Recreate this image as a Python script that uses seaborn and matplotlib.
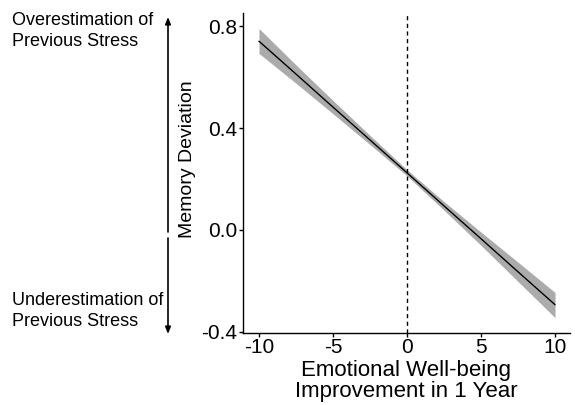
import matplotlib
matplotlib.use("Agg")
import matplotlib.pyplot as plt
import seaborn as sns
import pandas as pd

# Fitted regression of memory deviation on well-being change, with 95% band
wellbeing_change = [-10, -7.5, -5, -2.5, 0, 2.5, 5, 7.5, 10]
fitted = [0.741, 0.612, 0.482, 0.353, 0.224, 0.094, -0.035, -0.165, -0.294]
band_lower = [0.693, 0.576, 0.456, 0.335, 0.212, 0.077, -0.061, -0.203, -0.345]
band_upper = [0.791, 0.648, 0.508, 0.371, 0.236, 0.111, -0.009, -0.127, -0.246]

x_ticks = [-10, -5, 0, 5, 10]
y_ticks = [-0.4, 0.0, 0.4, 0.8]

df = pd.DataFrame({"x": wellbeing_change, "fit": fitted,
                   "lo": band_lower, "hi": band_upper})

sns.set_theme(style="white")
plt.rcParams["font.family"] = ["Liberation Sans", "DejaVu Sans"]

fig = plt.figure(figsize=(5.75, 4.05), dpi=100)
ax = fig.add_axes([0.4226, 0.178, 0.5684, 0.79])

ax.fill_between(df["x"], df["lo"], df["hi"], color="#ababab", linewidth=0, zorder=1)
sns.lineplot(data=df, x="x", y="fit", ax=ax, color="black", linewidth=1.0, zorder=2)
ax.axvline(0, color="black", linestyle=(0, (3, 2.5)), linewidth=1.0, zorder=3)

ax.set_xlim(-11.08, 11.0)
ax.set_ylim(-0.405, 0.852)
ax.set_xticks(x_ticks)
ax.set_xticklabels([f"{v:d}" for v in x_ticks])
ax.set_yticks(y_ticks)
ax.set_yticklabels([f"{v:.1f}" for v in y_ticks])
ax.tick_params(axis="both", which="both", direction="out", length=3, width=1,
               color="black", labelsize=15, labelcolor="black", pad=1,
               bottom=True, left=True)

for side in ["top", "right"]:
    ax.spines[side].set_visible(False)
for side in ["left", "bottom"]:
    ax.spines[side].set_color("black")
    ax.spines[side].set_linewidth(1.0)

ax.set_xlabel("Emotional Well-being\nImprovement in 1 Year", fontsize=16,
              color="black", linespacing=1.0, labelpad=2)
ax.set_ylabel("")
fig.text(187 / 575, 1 - 159 / 405, "Memory Deviation", rotation=90, fontsize=14,
         ha="center", va="center", color="black")

# Directional annotations on the left
fig.text(12 / 575, 1 - 31 / 405, "Overestimation of\nPrevious Stress", fontsize=13,
         ha="left", va="center", linespacing=1.25, color="black")
fig.text(12 / 575, 1 - 311 / 405, "Underestimation of\nPrevious Stress", fontsize=13,
         ha="left", va="center", linespacing=1.25, color="black")

arrow_x = 168 / 575
fig.add_artist(matplotlib.patches.FancyArrowPatch(
    (arrow_x, 1 - 232 / 405), (arrow_x, 1 - 17 / 405),
    transform=fig.transFigure, arrowstyle="-|>,head_length=4,head_width=1.6",
    color="black", linewidth=1.2, shrinkA=0, shrinkB=0))
fig.add_artist(matplotlib.patches.FancyArrowPatch(
    (arrow_x, 1 - 238 / 405), (arrow_x, 1 - 334 / 405),
    transform=fig.transFigure, arrowstyle="-|>,head_length=4,head_width=1.6",
    color="black", linewidth=1.2, shrinkA=0, shrinkB=0))

fig.savefig("out.png", dpi=100, facecolor="white")
